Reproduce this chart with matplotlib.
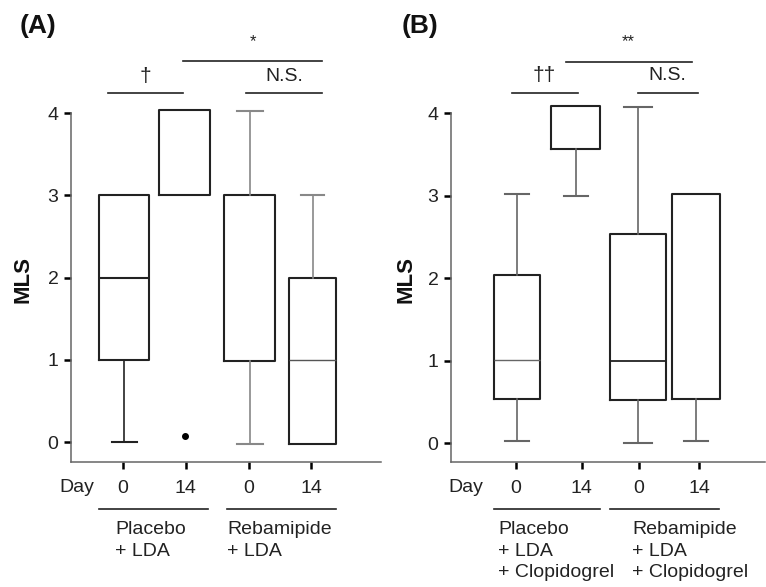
"""Box plots of MLS at day 0 and day 14 for the two LDA studies (A) and (B)."""

import matplotlib

matplotlib.use("Agg")
import matplotlib.pyplot as plt
from matplotlib.lines import Line2D

plt.rcParams["font.family"] = ["Liberation Sans", "DejaVu Sans"]

W, H = 766, 587

# Summary statistics (MLS score).
A_Q1 = [1.0, 3.0, 0.99, -0.02]
A_MED = [2.0, 3.0, 0.99, 1.0]
A_Q3 = [3.0, 4.04, 3.0, 2.0]
A_WLO = [0.0, 3.0, -0.02, -0.02]
A_WHI = [3.0, 4.04, 4.03, 3.0]
A_FLIERS = [[], [0.07], [], []]

B_Q1 = [0.53, 3.56, 0.52, 0.53]
B_MED = [1.01, 4.08, 1.0, 3.02]
B_Q3 = [2.04, 4.08, 2.53, 3.02]
B_WLO = [0.02, 3.0, 0.0, 0.02]
B_WHI = [3.02, 4.08, 4.07, 3.02]
B_FLIERS = [[], [], [], []]

DAY_LABELS = ["0", "14", "0", "14"]
A_GROUPS = ["Placebo\n+ LDA", "Rebamipide\n+ LDA"]
B_GROUPS = ["Placebo\n+ LDA\n+ Clopidogrel", "Rebamipide\n+ LDA\n+ Clopidogrel"]

FS = 14


def fx(x):
    return x / W


def fy(y):
    return 1 - y / H


def draw_panel(ax, q1, med, q3, wlo, whi, fliers, pos, widths, ticks, xlim, ylim,
               med_style, whisk_col, show_med):
    stats = []
    for i in range(4):
        stats.append(dict(q1=q1[i], med=med[i], q3=q3[i], whislo=wlo[i],
                          whishi=whi[i], fliers=fliers[i]))
    art = ax.bxp(stats, positions=pos, widths=widths, showfliers=True,
                 patch_artist=False,
                 boxprops=dict(color="#222222", linewidth=1.5),
                 flierprops=dict(marker="o", markerfacecolor="black",
                                 markeredgecolor="black", markersize=4),
                 manage_ticks=False)
    for i in range(4):
        for k in (2 * i, 2 * i + 1):
            wl, cap = art["whiskers"][k], art["caps"][k]
            y = cap.get_ydata()[0]
            wl.set_color(whisk_col[i])
            cap.set_color(whisk_col[i])
            wl.set_linewidth(1.2)
            cap.set_linewidth(1.5)
            # hide whiskers that collapse onto the box
            if abs(y - q1[i]) < 1e-6 or abs(y - q3[i]) < 1e-6:
                wl.set_visible(False)
                cap.set_visible(False)
        m = art["medians"][i]
        m.set_color(med_style[i][0])
        m.set_linewidth(med_style[i][1])
        m.set_visible(show_med[i])

    ax.set_xlim(*xlim)
    ax.set_ylim(*ylim)
    ax.set_xticks(ticks)
    ax.set_xticklabels(DAY_LABELS)
    ax.set_yticks([0, 1, 2, 3, 4])
    for s in ("top", "right"):
        ax.spines[s].set_visible(False)
    ax.spines["left"].set_bounds(ylim[0], 4)
    for s in ("left", "bottom"):
        ax.spines[s].set_color("#666666")
        ax.spines[s].set_linewidth(1.1)
    ax.tick_params(axis="both", length=5, width=1.8, color="black",
                   labelsize=FS, labelcolor="#222222")
    ax.tick_params(axis="x", pad=8)
    ax.tick_params(axis="y", pad=4)


def sig(ax, x0, x1, y, text, ty, size):
    ax.plot([x0, x1], [y, y], color="#222222", linewidth=1.2, clip_on=False)
    ax.text((x0 + x1) / 2, ty, text, ha="center", va="center",
            fontsize=size, color="#222222")


fig = plt.figure(figsize=(W / 100, H / 100), dpi=100)

# ---------------- panel A ----------------
axA = fig.add_axes([fx(71), fy(462), fx(381 - 71), (462 - 30) / H])
draw_panel(axA, A_Q1, A_MED, A_Q3, A_WLO, A_WHI, A_FLIERS,
           pos=[1.02, 1.98, 3.02, 4.02], widths=[0.8, 0.8, 0.81, 0.75],
           ticks=[1, 2, 3, 4], xlim=(0.17, 5.11), ylim=(-0.243, 5.01),
           med_style=[("#222222", 1.5), ("#222222", 1.5), ("#222222", 1.5),
                      ("#555555", 1.0)],
           whisk_col=["#222222", "#222222", "#888888", "#888888"],
           show_med=[True, False, False, True])
sig(axA, 0.76, 1.96, 4.24, "\u2020", 4.45, 15)
sig(axA, 1.96, 4.17, 4.63, "*", 4.87, 12)
sig(axA, 2.96, 4.17, 4.24, "N.S.", 4.45, FS)

# ---------------- panel B ----------------
axB = fig.add_axes([fx(451), fy(462), fx(765 - 451), (462 - 30) / H])
draw_panel(axB, B_Q1, B_MED, B_Q3, B_WLO, B_WHI, B_FLIERS,
           pos=[1.02, 2.0, 3.03, 4.0], widths=[0.78, 0.82, 0.93, 0.8],
           ticks=[1, 2.1, 3.05, 4.05], xlim=(-0.08, 5.15), ylim=(-0.23, 5.006),
           med_style=[("#666666", 1.0), ("#222222", 1.5), ("#222222", 1.3),
                      ("#222222", 1.5)],
           whisk_col=["#666666", "#666666", "#666666", "#666666"],
           show_med=[True, False, True, False])
sig(axB, 0.93, 2.03, 4.24, "\u2020\u2020", 4.45, 15)
sig(axB, 1.83, 3.93, 4.62, "**", 4.87, 12)
sig(axB, 3.03, 4.03, 4.24, "N.S.", 4.45, FS)

# panel letters and y labels
for lx, mx in [(38, 23), (420, 406)]:
    fig.text(fx(lx), fy(26), "(A)" if lx < 200 else "(B)", ha="center",
             va="center", fontsize=19, fontweight="bold", color="#111111")
    fig.text(fx(mx), fy(280), "MLS", ha="center", va="center", rotation=90,
             fontsize=16, fontweight="bold", color="#111111")

# "Day" labels, group underlines and group names
for day_x, lines, groups, text_x in [
    (77, [(99, 208), (227, 336)], A_GROUPS, [115, 227]),
    (466, [(494, 600), (610, 719)], B_GROUPS, [498, 632]),
]:
    fig.text(fx(day_x), fy(487), "Day", ha="center", va="center",
             fontsize=FS, color="#222222")
    for (x0, x1) in lines:
        fig.add_artist(Line2D([fx(x0), fx(x1)], [fy(509), fy(509)],
                              color="#222222", linewidth=1.2))
    for g, tx in zip(groups, text_x):
        fig.text(fx(tx), fy(521), g, ha="left", va="top", fontsize=FS,
                 color="#222222", linespacing=1.35)

fig.savefig("out.png", dpi=100)
